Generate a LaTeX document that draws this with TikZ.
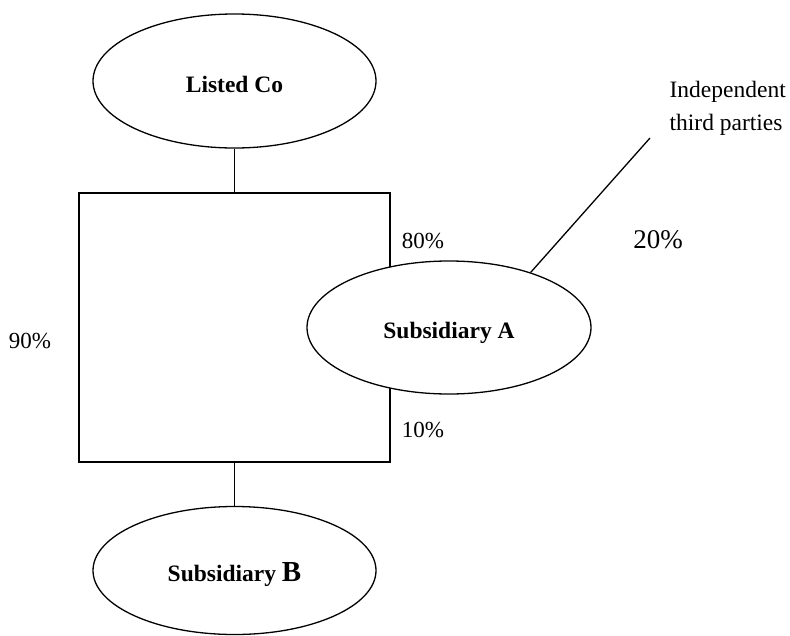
\documentclass[tikz,border=0pt]{standalone}
\usepackage{fontspec}
\setmainfont{Liberation Serif}
\usetikzlibrary{shapes.geometric}
\begin{document}
\begin{tikzpicture}[x=1pt,y=-1pt,
  line width=1.3pt,
  ent/.style={draw, ellipse, fill=white, inner sep=0pt, text height=22pt, text depth=0pt, font=\fontsize{23.5}{28}\selectfont\bfseries},
  pct/.style={inner sep=0pt, font=\fontsize{23}{28}\selectfont},
  ]
\useasboundingbox (0,0) rectangle (790,635);
% box
\coordinate (tl) at (79,193);
\coordinate (tm) at (234.5,193);
\coordinate (br) at (390,462);
\coordinate (bm) at (234.5,462);
\draw (tl) rectangle (br);
\node[ent, minimum width=283pt, minimum height=134pt] (LC) at (234.5,81) {Listed Co};
\node[ent, minimum width=284pt, minimum height=133pt] (SA) at (449,327.5) {Subsidiary A};
\node[ent, minimum width=283pt, minimum height=128pt] (SB) at (234.5,570.5) {Subsidiary {\fontsize{29}{30}\selectfont B}};
\draw (LC.south) -- (tm);
\draw (bm) -- (SB.north);
\coordinate (tp) at (650,138);
\draw (SA.34) -- (tp);
\node[pct, anchor=west, align=left, font=\fontsize{23.5}{33}\selectfont] (ITP) at (669,108) {Independent\\third parties};
\node[pct] (p80) at (423,241) {80\%};
\node[pct, font=\fontsize{27}{30}\selectfont] (p20) at (658,240) {20\%};
\node[pct] (p90) at (30,341) {90\%};
\node[pct] (p10) at (423,430) {10\%};
\end{tikzpicture}
\end{document}
